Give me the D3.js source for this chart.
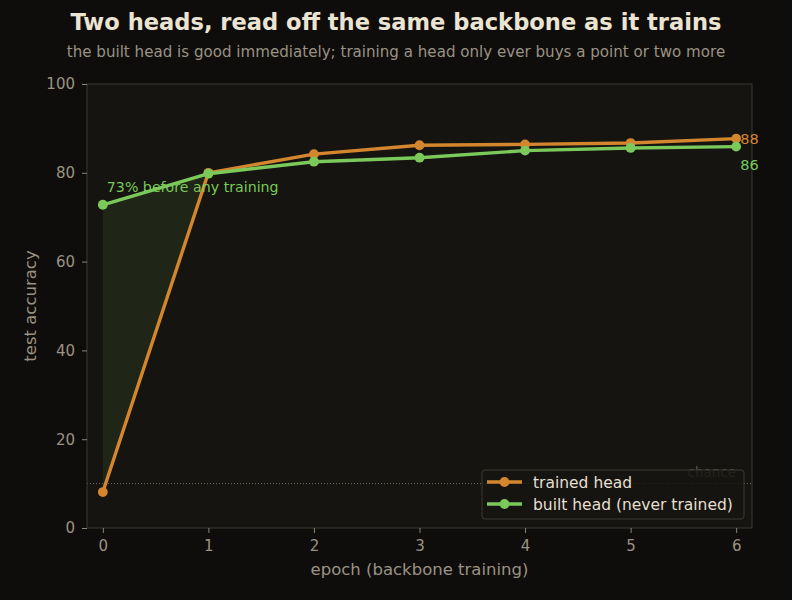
<!DOCTYPE html>
<html><head><meta charset="utf-8">
<script src="https://cdn.jsdelivr.net/npm/d3@7/dist/d3.min.js"></script>
<style>body{margin:0;background:#0e0d0b;}svg{display:block;font-family:"DejaVu Sans",sans-serif;}</style>
</head><body>
<script>
const epochs = [0,1,2,3,4,5,6];
const trainedHead = [8.1, 80.0, 84.2, 86.2, 86.4, 86.7, 87.7];
const builtHead = [72.8, 79.8, 82.5, 83.4, 85.0, 85.6, 85.9];
const yTicks = [0,20,40,60,80,100];
const chance = 10;

const W=792,H=600;
const svg=d3.select("body").append("svg").attr("width",W).attr("height",H);
svg.append("rect").attr("width",W).attr("height",H).attr("fill","#0e0d0b");
const x=d3.scaleLinear().domain([-0.15,6.15]).range([87,752]);
const y=d3.scaleLinear().domain([0,100]).range([528,84]);
svg.append("rect").attr("x",87).attr("y",84).attr("width",665).attr("height",444).attr("fill","#151410");

// fill between where built > trained
const crossT = (()=>{
  const d0=builtHead[0]-trainedHead[0], d1=builtHead[1]-trainedHead[1];
  return d0/(d0-d1);
})();
const xc=epochs[0]+crossT*(epochs[1]-epochs[0]);
const yc=builtHead[0]+crossT*(builtHead[1]-builtHead[0]);
const poly=[[epochs[0],builtHead[0]],[xc,yc],[epochs[0],trainedHead[0]]];
svg.append("path").attr("d",d3.line().x(d=>x(d[0])).y(d=>y(d[1]))(poly)+"Z")
  .attr("fill","#7cc85a").attr("fill-opacity",0.1);

// chance line
svg.append("line").attr("x1",87).attr("x2",752).attr("y1",y(chance)).attr("y2",y(chance))
  .attr("stroke","#8a8478").attr("stroke-width",0.8).attr("stroke-dasharray","1,2");
svg.append("text").attr("x",736).attr("y",y(chance)-7).attr("text-anchor","end")
  .attr("font-size",13.5).attr("fill","#5e5a50").text("chance");

const line=d3.line().x((d,i)=>x(epochs[i])).y(d=>y(d));
const series=[{v:trainedHead,c:"#d4862e"},{v:builtHead,c:"#7ac95a"}];
series.forEach(s=>{
  svg.append("path").attr("d",line(s.v)).attr("fill","none").attr("stroke",s.c).attr("stroke-width",3.4).attr("stroke-linejoin","round");
  svg.selectAll(null).data(s.v).enter().append("circle").attr("cx",(d,i)=>x(epochs[i])).attr("cy",d=>y(d)).attr("r",4.9).attr("fill",s.c);
});

// frame
svg.append("rect").attr("x",87).attr("y",84).attr("width",665).attr("height",444).attr("fill","none").attr("stroke","#3a3830").attr("stroke-width",1);

// axes
const tc="#9a9284";
const xa=svg.append("g").attr("transform","translate(0,528)").call(d3.axisBottom(x).tickValues(epochs).tickFormat(d3.format("d")).tickSize(5).tickPadding(7));
const ya=svg.append("g").attr("transform","translate(87,0)").call(d3.axisLeft(y).tickValues(yTicks).tickFormat(d3.format("d")).tickSize(5).tickPadding(7));
[xa,ya].forEach(a=>{a.select(".domain").remove();a.selectAll("line").attr("stroke","#8a8478");a.selectAll("text").attr("fill",tc).attr("font-size",15).attr("font-family","DejaVu Sans");});

svg.append("text").attr("x",419.5).attr("y",575).attr("text-anchor","middle").attr("font-size",16.5).attr("fill",tc).text("epoch (backbone training)");
svg.append("text").attr("transform","translate(36,306) rotate(-90)").attr("text-anchor","middle").attr("font-size",16.5).attr("fill",tc).text("test accuracy");

// titles
svg.append("text").attr("x",396).attr("y",30).attr("text-anchor","middle").attr("font-size",22.6).attr("font-weight","bold").attr("fill","#ece4d2").text("Two heads, read off the same backbone as it trains");
svg.append("text").attr("x",396).attr("y",57).attr("text-anchor","middle").attr("font-size",15.1).attr("fill","#9a9284").text("the built head is good immediately; training a head only ever buys a point or two more");

// annotations
svg.append("text").attr("x",x(0)+4).attr("y",y(builtHead[0])-13).attr("font-size",14.2).attr("fill","#7ac95a").text(Math.round(builtHead[0])+"% before any training");
svg.append("text").attr("x",x(6)+4).attr("y",y(trainedHead[6])+5).attr("font-size",14.5).attr("fill","#d4862e").text(Math.round(trainedHead[6]));
svg.append("text").attr("x",x(6)+4).attr("y",y(builtHead[6])+23).attr("font-size",14.5).attr("fill","#7ac95a").text(Math.round(builtHead[6]));

// legend
const lg=svg.append("g");
lg.append("rect").attr("x",482).attr("y",470).attr("width",262).attr("height",49).attr("rx",3).attr("fill","#151410").attr("fill-opacity",0.8).attr("stroke","#3a3830");
const labels=["trained head","built head (never trained)"];
series.forEach((s,i)=>{
  const yy=482+i*22;
  lg.append("line").attr("x1",487).attr("x2",522).attr("y1",yy).attr("y2",yy).attr("stroke",s.c).attr("stroke-width",3.4);
  lg.append("circle").attr("cx",504.5).attr("cy",yy).attr("r",4.9).attr("fill",s.c);
  lg.append("text").attr("x",533).attr("y",yy+5.5).attr("font-size",15.5).attr("fill","#e6dfd0").text(labels[i]);
});
</script>
</body></html>
